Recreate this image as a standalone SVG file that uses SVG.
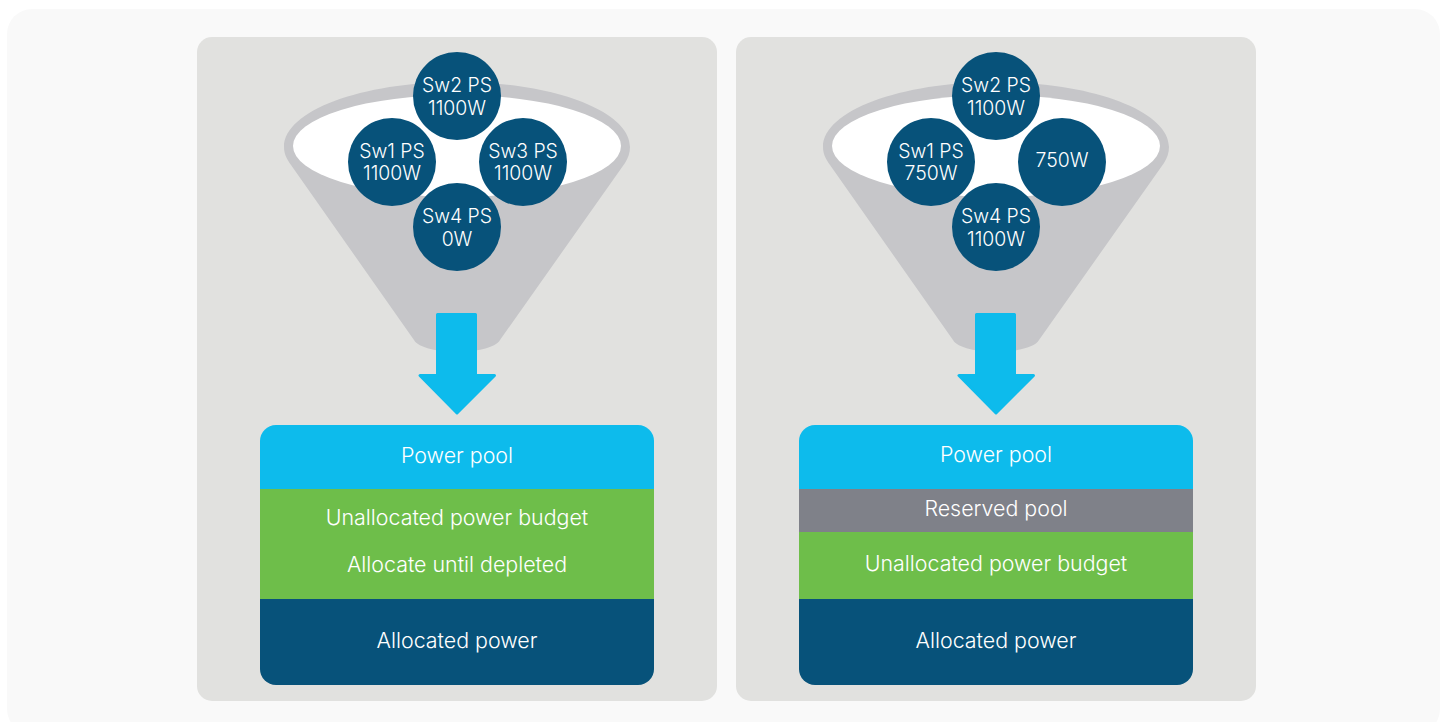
<svg xmlns="http://www.w3.org/2000/svg" width="1448" height="722" viewBox="0 0 1448 722">
<style>
text{font-family:"Inter","Liberation Sans",Arial,sans-serif;fill:#fff;text-anchor:middle;font-weight:300}
.c{font-size:19.4px}
.s{font-size:21.4px}
.circle{fill:#07527a}
.funnel{fill:#c6c6c9}
.arrow{fill:#0dbbec;stroke:#0dbbec;stroke-width:3;stroke-linejoin:round}
</style>
<defs>
<g id="funnel-shape">
<path class="funnel" d="M0 147C0 111 77 82 173 82S346 111 346 147C346 153 344 158 341 163L216 340C212 348 190 352 173 352S134 348 130 340L7 165C2 158 0 153 0 147Z"/>
<ellipse cx="173" cy="146" rx="164" ry="51" fill="#fff"/>
</g>
<path id="down-arrow" class="arrow" d="M437.500 314.500H475.500V375.500H494.500L457 413L420 375.500H437.500Z"/>
</defs>
<rect x="7" y="9" width="1433" height="725" rx="25" fill="#f9f9f9"/>
<g id="panel-left">
<rect x="197" y="37" width="520" height="664" rx="15" fill="#e1e1df"/>
<use href="#funnel-shape" x="284"/>
</g>
<g id="panel-right">
<rect x="736" y="37" width="520" height="664" rx="15" fill="#e1e1df"/>
<use href="#funnel-shape" x="823"/>
</g>
<g id="connectors">
<use href="#down-arrow"/>
<use href="#down-arrow" x="539"/>
</g>
<g id="l-sw2"><circle class="circle" cx="457" cy="96" r="44"/><text class="c" x="457" y="92">Sw2 PS</text><text class="c" x="457" y="115">1100W</text></g>
<g id="l-sw1"><circle class="circle" cx="392" cy="162" r="44"/><text class="c" x="392" y="158">Sw1 PS</text><text class="c" x="392" y="180">1100W</text></g>
<g id="l-sw3"><circle class="circle" cx="523" cy="162" r="44"/><text class="c" x="523" y="158">Sw3 PS</text><text class="c" x="523" y="180">1100W</text></g>
<g id="l-sw4"><circle class="circle" cx="457" cy="227" r="44"/><text class="c" x="457" y="223">Sw4 PS</text><text class="c" x="457" y="246">0W</text></g>
<g id="r-sw2"><circle class="circle" cx="996" cy="96" r="44"/><text class="c" x="996" y="92">Sw2 PS</text><text class="c" x="996" y="115">1100W</text></g>
<g id="r-sw1"><circle class="circle" cx="931" cy="162" r="44"/><text class="c" x="931" y="158">Sw1 PS</text><text class="c" x="931" y="180">750W</text></g>
<g id="r-sw3"><circle class="circle" cx="1062" cy="162" r="44"/><text class="c" x="1062" y="167">750W</text></g>
<g id="r-sw4"><circle class="circle" cx="996" cy="227" r="44"/><text class="c" x="996" y="223">Sw4 PS</text><text class="c" x="996" y="246">1100W</text></g>
<g id="l-pool"><path d="M260 489V441A16 16 0 0 1 276 425H638A16 16 0 0 1 654 441V489Z" fill="#0dbbec"/><text class="s" x="457" y="463">Power pool</text></g>
<g id="l-budget"><rect x="260" y="489" width="394" height="110" fill="#6ebe4a"/><text class="s" x="457" y="525">Unallocated power budget</text><text class="s" x="457" y="572">Allocate until depleted</text></g>
<g id="l-alloc"><path d="M260 599H654V669A16 16 0 0 1 638 685H276A16 16 0 0 1 260 669Z" fill="#07527a"/><text class="s" x="457" y="648">Allocated power</text></g>
<g id="r-pool"><path d="M799 489V441A16 16 0 0 1 815 425H1177A16 16 0 0 1 1193 441V489Z" fill="#0dbbec"/><text class="s" x="996" y="462">Power pool</text></g>
<g id="r-reserved"><rect x="799" y="489" width="394" height="43" fill="#7f8189"/><text class="s" x="996" y="516">Reserved pool</text></g>
<g id="r-budget"><rect x="799" y="532" width="394" height="67" fill="#6ebe4a"/><text class="s" x="996" y="571">Unallocated power budget</text></g>
<g id="r-alloc"><path d="M799 599H1193V669A16 16 0 0 1 1177 685H815A16 16 0 0 1 799 669Z" fill="#07527a"/><text class="s" x="996" y="648">Allocated power</text></g>
</svg>
